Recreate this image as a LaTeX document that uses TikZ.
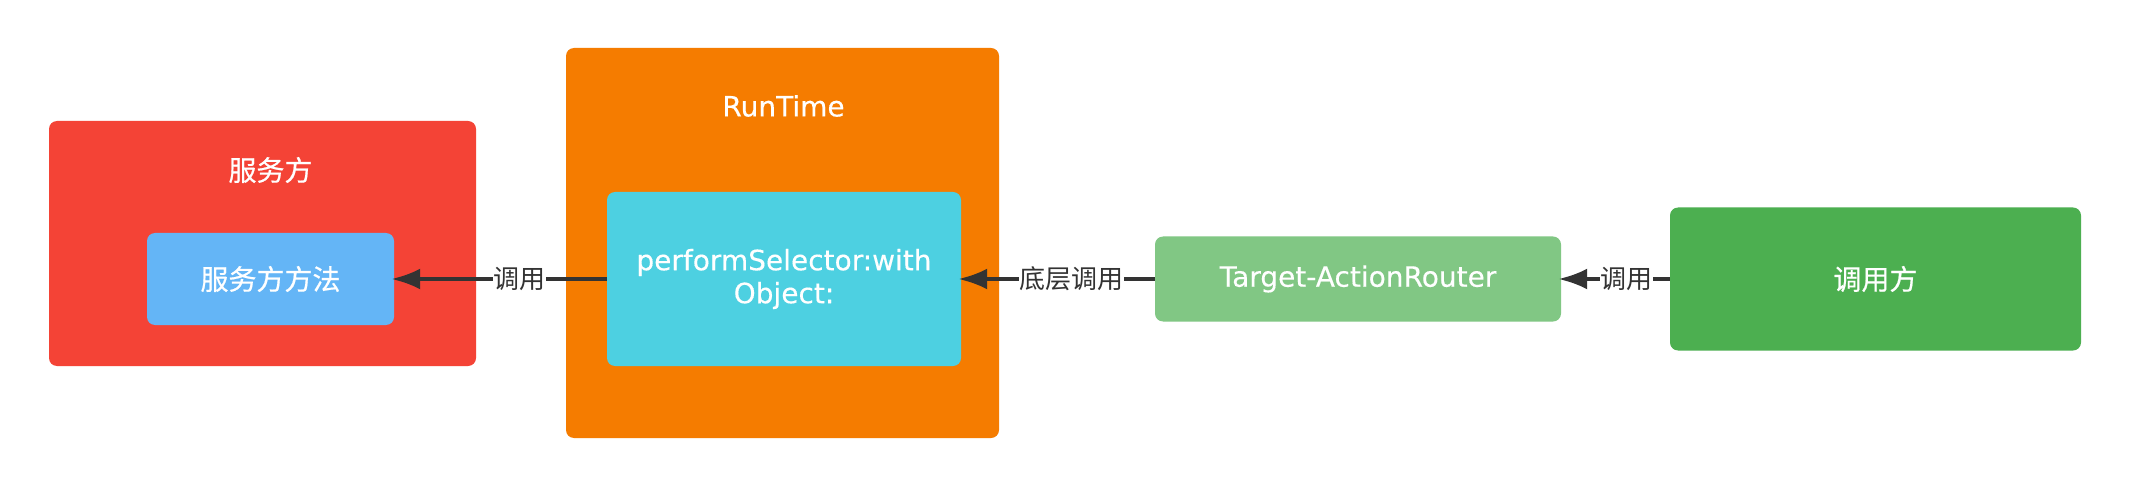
\documentclass[tikz,border=0pt]{standalone}
\usepackage{fontspec}
\setmainfont{DejaVu Sans}
\newfontfamily\cjk{Noto Sans CJK SC}
\newfontfamily\cjkw[FakeBold=0.6]{Noto Sans CJK SC}
\newfontfamily\latw[FakeBold=0.3]{DejaVu Sans}
\usetikzlibrary{arrows.meta}
\definecolor{cred}{HTML}{F44336}
\definecolor{corange}{HTML}{F57C00}
\definecolor{cblue}{HTML}{64B5F6}
\definecolor{ccyan}{HTML}{4DD0E1}
\definecolor{clgreen}{HTML}{81C784}
\definecolor{cgreen}{HTML}{4CAF50}
\definecolor{cline}{HTML}{333333}
\tikzset{
  box/.style={rectangle, rounded corners=8pt, inner sep=0pt, draw=none},
  wtext/.style={text=white, font=\latw\fontsize{28}{33}\selectfont, align=center},
  wcjk/.style={text=white, font=\cjkw\fontsize{28}{33}\selectfont},
  lbl/.style={fill=white, inner sep=0.5pt, text=cline, font=\cjk\fontsize{26}{30}\selectfont},
  arr/.style={draw=cline, line width=4pt, -{Latex[length=29pt,width=21pt]}, shorten >=-3pt}
}
\begin{document}
\begin{tikzpicture}[x=1pt,y=-1pt]
\useasboundingbox[fill=white] (0,0) rectangle (2130,486);
% containers
\node[box, fill=cred, minimum width=427pt, minimum height=245pt] (svc) at (262.5,243.5) {};
\node[box, fill=corange, minimum width=433pt, minimum height=390pt] (rt) at (782.5,243) {};
% titles
\node[wcjk] (svctitle) at (270.5,170) {服务方};
\node[wtext] (rttitle) at (783.5,106) {RunTime};
% inner nodes
\node[box, fill=cblue, minimum width=247pt, minimum height=92pt, wcjk] (method) at (270.5,279) {服务方方法};
\node[box, fill=ccyan, minimum width=354pt, minimum height=174pt, wtext] (perf) at (784,279) {performSelector:with\\Object:};
\node[box, fill=clgreen, minimum width=406pt, minimum height=85pt, wtext] (router) at (1358,279) {Target-ActionRouter};
\node[box, fill=cgreen, minimum width=411pt, minimum height=143pt, wcjk] (caller) at (1875.5,279) {调用方};
% connectors
\draw[arr] (perf.west) -- node[lbl, pos=0.41] {调用} (method.east);
\draw[arr] (router.west) -- node[lbl, pos=0.43] {底层调用} (perf.east);
\draw[arr] (caller.west) -- node[lbl, pos=0.40] {调用} (router.east);
\end{tikzpicture}
\end{document}
